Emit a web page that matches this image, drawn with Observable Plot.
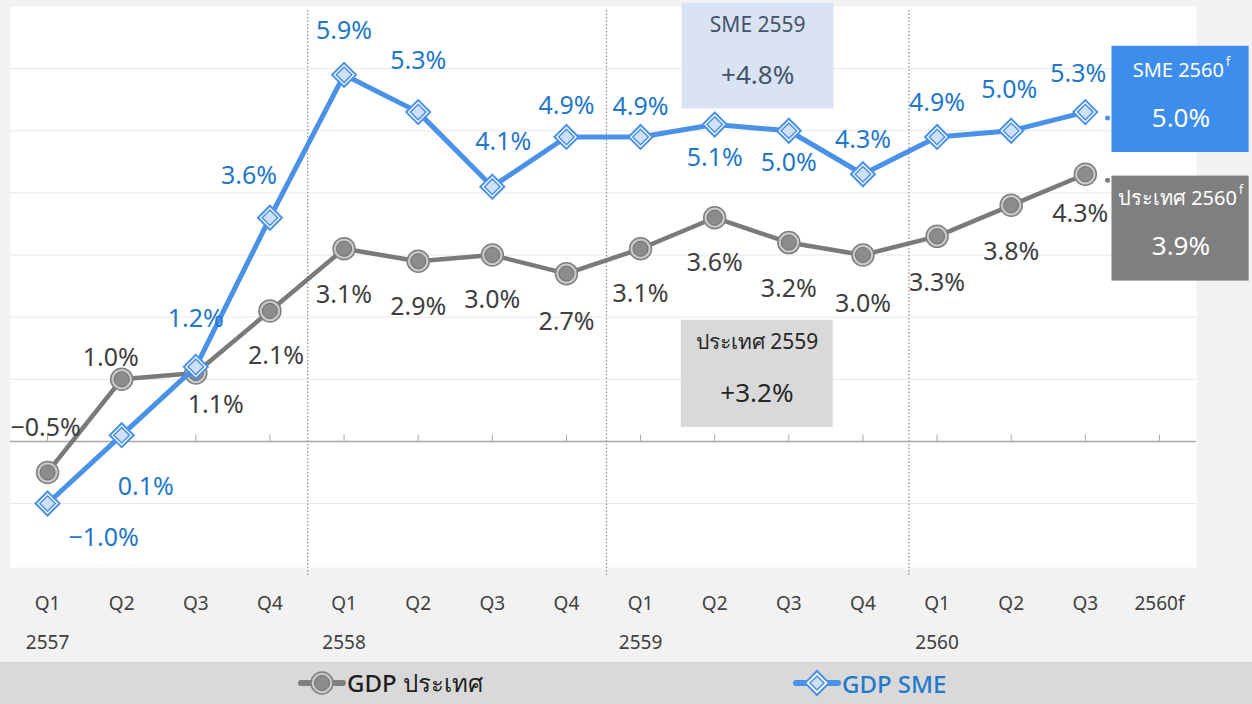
<!DOCTYPE html>
<html>
<head>
<meta charset="utf-8">
<script src="https://cdn.jsdelivr.net/npm/d3@7"></script>
<script src="https://cdn.jsdelivr.net/npm/@observablehq/plot@0.6"></script>
<style>
  html, body { margin: 0; padding: 0; background: #f2f2f2; }
  body { width: 1252px; height: 704px; overflow: hidden; font-family: "Noto Sans", "DejaVu Sans", sans-serif; }
  #chart svg { display: block; }
  #legend { position: relative; width: 1252px; height: 42px; background: #d9d9d9; }
  .item { position: absolute; top: 0; height: 42px; display: flex; align-items: center; font-size: 24px; font-weight: 500; }
</style>
</head>
<body>
<div id="chart"></div>
<div id="legend">
  <div class="item" style="left:298px;color:#1f1f1f">
    <svg width="48" height="30"><line x1="3" y1="15" x2="45" y2="15" stroke="#808080" stroke-width="6" stroke-linecap="round"/><circle cx="24" cy="15" r="11" fill="#c8c8c8" stroke="#808080" stroke-width="1.5"/><circle cx="24" cy="15" r="7.5" fill="#8c8c8c" stroke="#6f6f6f"/></svg>
    <span style="margin-left:1px">GDP ประเทศ</span>
  </div>
  <div class="item" style="left:793px;color:#1f7acc">
    <svg width="48" height="30"><line x1="3" y1="15" x2="45" y2="15" stroke="#4a91e8" stroke-width="6" stroke-linecap="round"/><path d="M24,3 L36,15 L24,27 L12,15 Z" fill="#fff" stroke="#4a91e8" stroke-width="2"/><path d="M24,8 L31,15 L24,22 L17,15 Z" fill="#cfe0f7" stroke="#4a91e8" stroke-width="1.5"/></svg>
    <span style="margin-left:1px">GDP SME</span>
  </div>
</div>
<script>
// ---- data ----
const quarters = ["Q1","Q2","Q3","Q4","Q1","Q2","Q3","Q4","Q1","Q2","Q3","Q4","Q1","Q2","Q3","2560f"];
const years    = ["2557","","","","2558","","","","2559","","","","2560","","",""];
const gdpCountry = [-0.5,1.0,1.1,2.1,3.1,2.9,3.0,2.7,3.1,3.6,3.2,3.0,3.3,3.8,4.3,null];
const gdpSME     = [-1.0,0.1,1.2,3.6,5.9,5.3,4.1,4.9,4.9,5.1,5.0,4.3,4.9,5.0,5.3,null];
const annualTitles = ["SME 2559","ประเทศ 2559","SME 2560","ประเทศ 2560"];
const annualValues = ["+4.8%","+3.2%","5.0%","3.9%"];
const annualSup    = ["","","f","f"];

// ---- layout (label offsets in px, boxes in data coords) ----
const gdpLabelOff = [[-2,-44],[-11,-21],[20,32],[6,45],[0,46],[0,46],[0,45],[0,48],[0,45],[0,45],[0,46],[0,49],[0,47],[0,47],[-5,40]];
const smeLabelOff = [[56,34],[24,52],[0,-48],[-21,-42],[0,-44],[0,-51],[11,-45],[0,-31],[0,-30],[0,33],[0,32],[0,-34],[0,-34],[-2,-41],[-7,-38]];
const dividers = [3.51, 7.54, 11.62];
const boxLayout = [
  {x1:8.56, x2:10.61, y1:5.35, y2:7.05, cx:9.58, ty:6.7, vy:5.88, fill:"#dae3f3", color:"#44546a", supDx:0},
  {x1:8.55, x2:10.6, y1:0.225, y2:1.95, cx:9.57, ty:1.59, vy:0.77, fill:"#d9d9d9", color:"#262626", supDx:0},
  {x1:14.36, x2:16.21, y1:4.65, y2:6.36, cx:15.29, ty:5.97, vy:5.2, fill:"#3d8ded", color:"#ffffff", supDx:43},
  {x1:14.36, x2:16.21, y1:2.58, y2:4.27, cx:15.29, ty:3.91, vy:3.14, fill:"#7f7f7f", color:"#ffffff", supDx:56}
];

const idx = d3.range(quarters.length);
const rowsOf = arr => arr.map((v,i)=>({i, v})).filter(d => d.v != null);
const gRows = rowsOf(gdpCountry);
const sRows = rowsOf(gdpSME);
const fmt = v => (v < 0 ? "\u2212" : "") + Math.abs(v).toFixed(1) + "%";
const FONT = "'Noto Sans', 'DejaVu Sans', sans-serif";

const boxes = annualTitles.map((t,k)=>({...boxLayout[k], title:t, value:annualValues[k], sup:annualSup[k]}));

const marks = [
  Plot.frame({fill:"white", stroke:null}),
  Plot.ruleY([-1,1,2,3,4,5,6], {stroke:"#e8e8e8", strokeWidth:1}),
  Plot.ruleY([0], {stroke:"#a6a6a6", strokeWidth:1.5}),
  Plot.ruleX(idx, {x:d=>d, y1:0, y2:0.1, stroke:"#a6a6a6", strokeWidth:1}),
  Plot.ruleX(dividers, {y1:-2.16, y2:6.95, stroke:"#8c8c8c", strokeWidth:1.2, strokeDasharray:"1.5,2"}),
  // annotation boxes
  Plot.rect(boxes, {x1:"x1", x2:"x2", y1:"y1", y2:"y2", fill:"fill"}),
  ...boxes.map(b => b.sup
    ? Plot.text([b], {x:"cx", y:"ty", text:"title", dx:b.supDx, textAnchor:"end", fill:b.color, fontSize:20, fontFamily:FONT})
    : Plot.text([b], {x:"cx", y:"ty", text:"title", fill:b.color, fontSize:21, fontFamily:FONT})),
  ...boxes.filter(b=>b.sup).map(b => Plot.text([b], {x:"cx", y:"ty", text:"sup", dx:b.supDx+2, dy:-8, textAnchor:"start", fill:b.color, fontSize:12, fontFamily:FONT})),
  Plot.text(boxes, {x:"cx", y:"vy", text:"value", fill:d=>d.color, fontSize:26, fontFamily:FONT}),
  // connector dots near forecast boxes
  Plot.dot([{i:14.3, v:gdpSME[14]}], {x:"i", y:"v", dy:6, r:2.5, fill:"#4a91e8"}),
  Plot.dot([{i:14.3, v:gdpCountry[14]}], {x:"i", y:"v", dy:6, r:2.5, fill:"#7f7f7f"}),
  // gray series
  Plot.line(gRows, {x:"i", y:"v", stroke:"#7a7a7a", strokeWidth:4.5}),
  Plot.dot(gRows, {x:"i", y:"v", r:11, fill:"#c8c8c8", stroke:"#808080", strokeWidth:1.5}),
  Plot.dot(gRows, {x:"i", y:"v", r:7.5, fill:"#8c8c8c", stroke:"#6f6f6f", strokeWidth:1}),
  // blue series
  Plot.line(sRows, {x:"i", y:"v", stroke:"#4a91e8", strokeWidth:5}),
  Plot.dot(sRows, {x:"i", y:"v", symbol:"diamond2", r:10.8, fill:"white", stroke:"#4a91e8", strokeWidth:2}),
  Plot.dot(sRows, {x:"i", y:"v", symbol:"diamond2", r:7, fill:"#cfe0f7", stroke:"#4a91e8", strokeWidth:1.5}),
  // labels
  ...gRows.map((d,k) => Plot.text([d], {x:"i", y:"v", text:r=>fmt(r.v), dx:gdpLabelOff[k][0], dy:gdpLabelOff[k][1], fill:"#404040", fontSize:25, fontFamily:FONT})),
  ...sRows.map((d,k) => Plot.text([d], {x:"i", y:"v", text:r=>fmt(r.v), dx:smeLabelOff[k][0], dy:smeLabelOff[k][1], fill:"#1f78c8", fontSize:25, fontFamily:FONT})),
  // x axis labels
  Plot.text(idx, {x:d=>d, text:d=>quarters[d], frameAnchor:"bottom", dy:42, fill:"#404040", fontSize:19, fontFamily:FONT}),
  Plot.text(idx.filter(i=>years[i]), {x:d=>d, text:d=>years[d], frameAnchor:"bottom", dy:81, fill:"#404040", fontSize:19, fontFamily:FONT})
];

const chart = Plot.plot({
  width:1252, height:662,
  marginLeft:10, marginRight:56, marginTop:6, marginBottom:95,
  x:{domain:[-0.5,15.5], axis:null},
  y:{domain:[-2.03,7], axis:null},
  style:{background:"transparent", fontFamily:FONT, overflow:"visible"},
  marks
});
document.getElementById("chart").appendChild(chart);
</script>
</body>
</html>
